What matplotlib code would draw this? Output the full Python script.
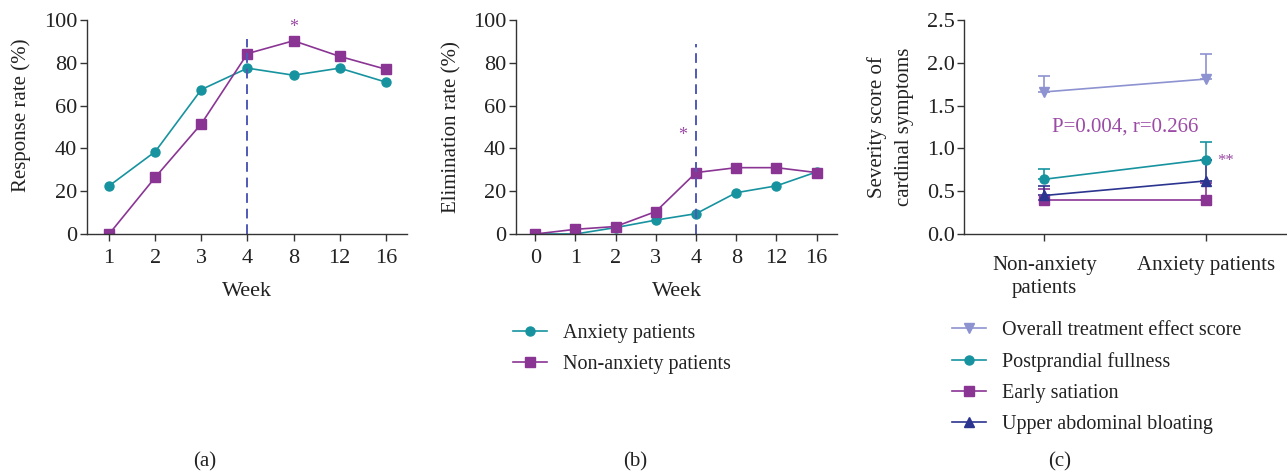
import numpy as np
import matplotlib.pyplot as plt
from matplotlib.lines import Line2D

plt.rcParams['font.family'] = ['Liberation Serif', 'DejaVu Serif']

# Panel (a) - response rate
weeks_a = ["1", "2", "3", "4", "8", "12", "16"]
resp_anx = [22.5, 38.5, 67.5, 77.5, 74.2, 77.5, 71.0]
resp_non = [0.0, 26.5, 51.5, 84.3, 90.3, 83.0, 77.0]

# Panel (b) - elimination rate
weeks_b = ["0", "1", "2", "3", "4", "8", "12", "16"]
elim_anx = [0.0, 0.0, 3.0, 6.5, 9.5, 19.3, 22.5, 29.0]
elim_non = [0.0, 2.2, 3.5, 10.5, 28.7, 31.0, 31.0, 28.7]

# Panel (c) - severity scores (mean, upper error)
groups = ["Non-anxiety\npatients", "Anxiety patients"]
overall = [1.66, 1.81]
overall_err = [0.19, 0.29]
fullness = [0.64, 0.87]
fullness_err = [0.12, 0.20]
satiation = [0.40, 0.40]
satiation_err = [0.12, 0.20]
bloating = [0.45, 0.62]
bloating_err = [0.11, 0.24]

teal = "#17939f"
purple = "#8a3594"
dash_blue = "#5059b5"
lavender = "#8d92d0"
navy = "#2b3590"
star_col = "#9b4aa5"
txt = "#222222"
fs = 15
tfs = 16
lfs = 14.5

W, H = 1287, 474
fig = plt.figure(figsize=(W / 100, H / 100), dpi=100)
ax1 = fig.add_axes([87 / W, 1 - 234 / H, 320 / W, 214 / H])
ax2 = fig.add_axes([516 / W, 1 - 234 / H, 320.7 / W, 214 / H])
ax3 = fig.add_axes([964.3 / W, 1 - 234 / H, 321.4 / W, 214 / H])


def style(ax):
    for s in ["top", "right"]:
        ax.spines[s].set_visible(False)
    for s in ["left", "bottom"]:
        ax.spines[s].set_color("#333333")
        ax.spines[s].set_linewidth(1.0)
    ax.tick_params(direction="out", length=5, width=1.0, colors="#333333",
                   labelsize=tfs, labelcolor=txt)
    ax.tick_params(axis="x", pad=6)
    ax.tick_params(axis="y", pad=2)


# (a)
xa = np.arange(len(weeks_a))
ax1.plot(xa, resp_anx, "-o", color=teal, ms=6.5, lw=1.2)
ax1.plot(xa, resp_non, "-s", color=purple, ms=7, lw=1.2)
ax1.plot([3, 3], [0, 91], ls=(0, (5, 3)), color=dash_blue, lw=1.4)
ax1.text(4, 96.5, "*", color=star_col, fontsize=13, ha="center", va="center")
ax1.set_xlim(-0.48, 6.46)
ax1.set_ylim(0, 100)
ax1.set_xticks(xa)
ax1.set_xticklabels(weeks_a)
ax1.set_yticks([0, 20, 40, 60, 80, 100])
ax1.set_xlabel("Week", fontsize=tfs, color=txt)
ax1.set_ylabel("Response rate (%)", fontsize=fs, color=txt)
ax1.xaxis.set_label_coords(0.5, -0.224)
ax1.yaxis.set_label_coords(-0.175, 0.556)
style(ax1)

# (b)
xb = np.arange(len(weeks_b))
ax2.plot(xb, elim_anx, "-o", color=teal, ms=6.5, lw=1.2, label="Anxiety patients")
ax2.plot(xb, elim_non, "-s", color=purple, ms=7, lw=1.2, label="Non-anxiety patients")
ax2.plot([4, 4], [0, 89], ls=(0, (5, 3)), color=dash_blue, lw=1.4)
ax2.text(3.67, 46, "*", color=star_col, fontsize=13, ha="center", va="center")
ax2.set_xlim(-0.48, 7.5)
ax2.set_ylim(0, 100)
ax2.set_xticks(xb)
ax2.set_xticklabels(weeks_b)
ax2.set_yticks([0, 20, 40, 60, 80, 100])
ax2.set_xlabel("Week", fontsize=tfs, color=txt)
ax2.set_ylabel("Elimination rate (%)", fontsize=fs, color=txt)
ax2.xaxis.set_label_coords(0.501, -0.224)
ax2.yaxis.set_label_coords(-0.171, 0.5)
style(ax2)
fig.legend(*ax2.get_legend_handles_labels(), loc="upper left",
           bbox_to_anchor=(513 / W, 1 - 324 / H), frameon=False, fontsize=lfs,
           handlelength=1.7, handletextpad=0.8, labelspacing=0.6,
           borderaxespad=0, borderpad=0, labelcolor=txt)

# (c)
xc = np.arange(len(groups))
series = [
    (overall, overall_err, "v", lavender, "Overall treatment effect score"),
    (fullness, fullness_err, "o", teal, "Postprandial fullness"),
    (satiation, satiation_err, "s", purple, "Early satiation"),
    (bloating, bloating_err, "^", navy, "Upper abdominal bloating"),
]
handles = []
for vals, err, mk, col, lab in series:
    ax3.errorbar(xc, vals, yerr=[[0, 0], err], fmt="-" + mk, color=col, ms=6.5,
                 lw=1.2, elinewidth=1.2, capsize=4, capthick=1.2)
    handles.append(Line2D([], [], color=col, marker=mk, ms=6.5, lw=1.2, label=lab))
ax3.text(0.5, 1.25, "P=0.004, r=0.266", color=star_col, fontsize=fs,
         ha="center", va="center")
ax3.text(1.12, 0.85, "**", color=star_col, fontsize=12, ha="center", va="center")
ax3.set_xlim(-0.497, 1.495)
ax3.set_ylim(0, 2.5)
ax3.set_xticks(xc)
ax3.set_xticklabels(groups, fontsize=fs, linespacing=1.3)
ax3.set_yticks([0.0, 0.5, 1.0, 1.5, 2.0, 2.5])
ax3.set_yticklabels(["0.0", "0.5", "1.0", "1.5", "2.0", "2.5"])
ax3.set_ylabel("Severity score of\ncardinal symptoms", fontsize=fs, color=txt,
               linespacing=1.55)
ax3.yaxis.set_label_coords(-0.158, 0.5)
style(ax3)
ax3.tick_params(axis="x", labelsize=fs, pad=11)
fig.legend(handles=handles, loc="upper left",
           bbox_to_anchor=(952 / W, 1 - 321 / H), frameon=False, fontsize=lfs,
           handlelength=1.7, handletextpad=0.8, labelspacing=0.6,
           borderaxespad=0, borderpad=0, labelcolor=txt)

for x, lab in [(205, "(a)"), (635, "(b)"), (1060, "(c)")]:
    fig.text(x / W, 1 - 462 / H, lab, fontsize=fs, ha="center", va="center",
             color=txt)

fig.savefig("out.png", dpi=100)
